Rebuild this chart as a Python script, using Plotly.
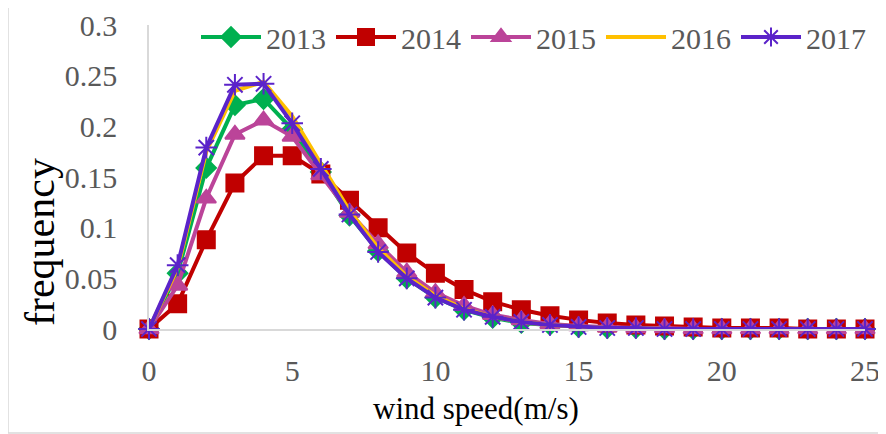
import plotly.graph_objects as go

wind_speed = list(range(0, 26))
y2013 = [0, 0.055, 0.159, 0.221, 0.227, 0.197, 0.155, 0.112, 0.077, 0.050, 0.031, 0.019, 0.011, 0.006, 0.004, 0.002, 0.001, 0.001, 0, 0, 0, 0, 0, 0, 0, 0]
y2014 = [0, 0.025, 0.088, 0.144, 0.171, 0.171, 0.153, 0.127, 0.100, 0.075, 0.055, 0.039, 0.027, 0.019, 0.013, 0.009, 0.006, 0.004, 0.003, 0.002, 0.001, 0.001, 0.001, 0, 0, 0]
y2015 = [0, 0.043, 0.129, 0.192, 0.206, 0.190, 0.152, 0.115, 0.084, 0.056, 0.036, 0.023, 0.014, 0.009, 0.005, 0.003, 0.002, 0.001, 0.001, 0, 0, 0, 0, 0, 0, 0]
y2016 = [0, 0.060, 0.175, 0.235, 0.244, 0.210, 0.163, 0.117, 0.080, 0.052, 0.033, 0.020, 0.012, 0.007, 0.004, 0.002, 0.001, 0.001, 0, 0, 0, 0, 0, 0, 0, 0]
y2017 = [0, 0.063, 0.179, 0.241, 0.242, 0.203, 0.158, 0.113, 0.076, 0.050, 0.031, 0.019, 0.012, 0.007, 0.004, 0.002, 0.001, 0.001, 0, 0, 0, 0, 0, 0, 0, 0]

series_names = ["2013", "2014", "2015", "2016", "2017"]
y_ticks = [0, 0.05, 0.1, 0.15, 0.2, 0.25, 0.3]
y_tick_labels = ["0", "0.05", "0.1", "0.15", "0.2", "0.25", "0.3"]
x_ticks = [0, 5, 10, 15, 20, 25]

FONT = "Liberation Serif"
GRAY = "#595959"
AXIS = "#d9d9d9"

# page has an 8px body margin; figure is sized so that the plot lands where the reference is
W, H = 878, 426
L, R, T, B = 141, 21, 17, 105
PW = W - L - R
PH = H - T - B


def px_x(page_x):
    return (page_x - 8 - L) / PW


def px_y(page_y):
    return (H - B - (page_y - 8)) / PH


styles = [
    dict(color="#00b050", symbol="diamond", size=15),
    dict(color="#c00000", symbol="square", size=17),
    dict(color="#bb4499", symbol="triangle-up", size=17),
    dict(color="#ffc000", symbol=None, size=0),
    dict(color="#5b23c9", symbol="asterisk-open", size=18),
]
data = [y2013, y2014, y2015, y2016, y2017]

fig = go.Figure()
for name, ys, st in zip(series_names, data, styles):
    if st["symbol"] is None:
        mode = "lines"
        marker = None
    else:
        mode = "lines+markers"
        marker = dict(symbol=st["symbol"], size=st["size"], color=st["color"],
                      line=dict(color=st["color"], width=2))
    fig.add_trace(go.Scatter(
        x=wind_speed, y=ys, name=name, mode=mode,
        line=dict(color=st["color"], width=4),
        marker=marker, cliponaxis=False,
    ))

fig.update_layout(
    width=W, height=H,
    margin=dict(l=L, r=R, t=T, b=B, autoexpand=False),
    paper_bgcolor="white", plot_bgcolor="white",
    font=dict(family=FONT, size=30, color=GRAY),
    showlegend=True,
    legend=dict(orientation="h", x=px_x(196), xanchor="left", y=px_y(37), yanchor="middle",
                bgcolor="rgba(0,0,0,0)", font=dict(family=FONT, size=30, color=GRAY),
                itemwidth=60, tracegroupgap=0),
    xaxis=dict(range=[0, 25], tickvals=x_ticks, showgrid=False, zeroline=False,
               showline=True, linecolor=AXIS, linewidth=1.5,
               ticks="outside", ticklen=14, tickcolor="rgba(0,0,0,0)",
               tickfont=dict(family=FONT, size=30, color=GRAY)),
    yaxis=dict(range=[0, 0.3], tickvals=y_ticks, ticktext=y_tick_labels, showgrid=False,
               zeroline=False, showline=True, linecolor=AXIS, linewidth=1.5,
               ticks="outside", ticklen=24, tickcolor="rgba(0,0,0,0)",
               tickfont=dict(family=FONT, size=30, color=GRAY)),
    shapes=[dict(type="rect", xref="paper", yref="paper",
                 x0=px_x(8), x1=px_x(885),
                 y0=px_y(433), y1=px_y(5),
                 line=dict(color=AXIS, width=1.5), fillcolor="rgba(0,0,0,0)", layer="below")],
    annotations=[
        dict(text="wind speed(m/s)", xref="paper", yref="paper",
             x=px_x(476), y=px_y(408), xanchor="center", yanchor="middle",
             showarrow=False, font=dict(family=FONT, size=31, color="black")),
        dict(text="frequency", xref="paper", yref="paper",
             x=px_x(40), y=px_y(242), xanchor="center", yanchor="middle",
             textangle=-90, showarrow=False, font=dict(family=FONT, size=42, color="black")),
    ],
)

fig.write_html("out.html")
